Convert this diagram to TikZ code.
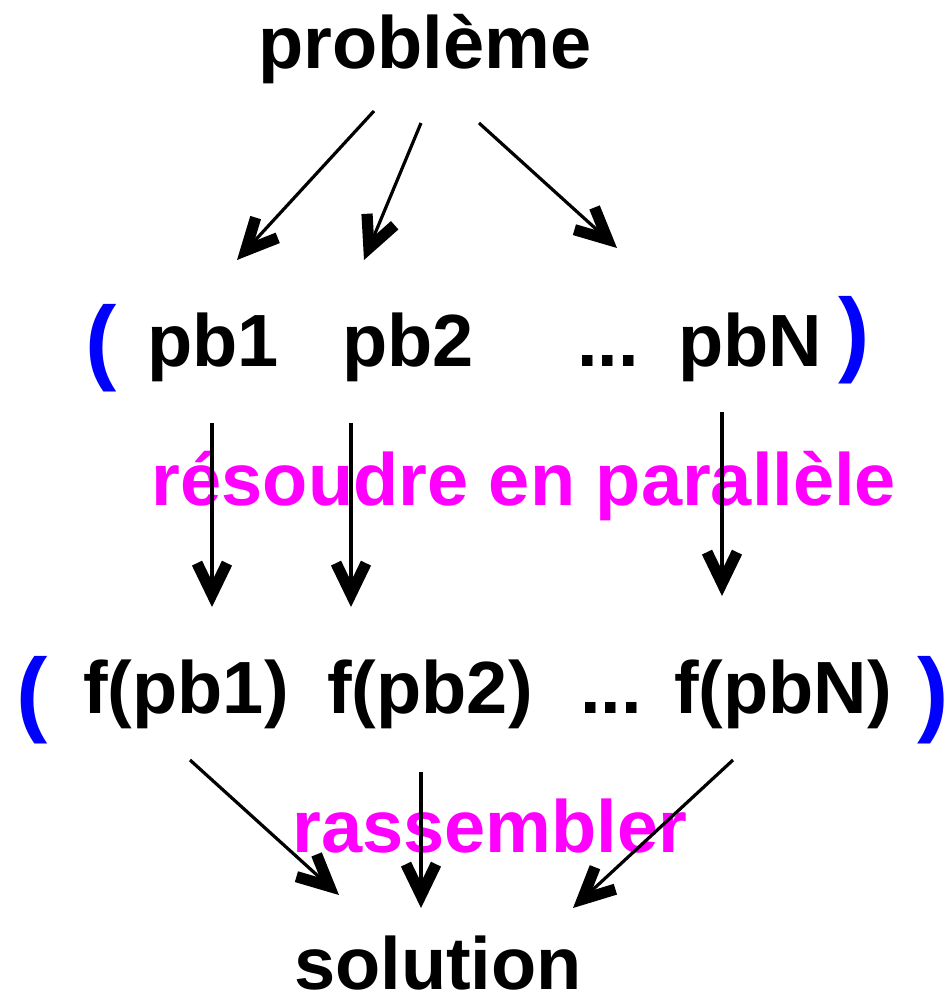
\documentclass[tikz,border=0pt]{standalone}
\usepackage{fontspec}
\setmainfont{Liberation Sans}
\usetikzlibrary{arrows.meta}
\definecolor{mag}{RGB}{255,0,255}
\definecolor{blu}{RGB}{0,0,255}
\begin{document}
\begin{tikzpicture}[x=1pt,y=-1pt,
  txt/.style={inner sep=0pt, anchor=base, font=\fontsize{74}{80}\selectfont\bfseries},
  lbl/.style={txt, text=mag},
  par/.style={inner sep=0pt, anchor=base, text=blu, font=\fontsize{94}{100}\selectfont\bfseries},
  arr/.style={line width=3.2pt, -{Straight Barb[length=31pt,width=30pt,line width'=8pt 0 1]}}]
\useasboundingbox (0,0) rectangle (951,1007);

% texts
\node[txt] (pb) at (425,68) {problème};
\node[par] (l1) at (101,372) {(};
\node[txt] (p1) at (213,366) {pb1};
\node[txt] (p2) at (408,366) {pb2};
\node[txt] (d1) at (608,366) {...};
\node[txt] (pN) at (750,366) {pbN};
\node[par] (r1) at (854,364) {)};

\node[par] (l2) at (32,724) {(};
\node[txt] (f1) at (186,713) {f(pb1)};
\node[txt] (f2) at (430,713) {f(pb2)};
\node[txt] (d2) at (611,713) {...};
\node[txt] (fN) at (783,713) {f(pbN)};
\node[par] (r2) at (933,724) {)};

\node[txt] (sol) at (438,989) {solution};

\node[lbl] (res) at (524,505) {résoudre en parallèle};
\node[lbl] (ras) at (490,852) {rassembler};

% connector end points
\coordinate (a1s) at (374,111); \coordinate (a1e) at (237,260);
\coordinate (a2s) at (421,123); \coordinate (a2e) at (364,260);
\coordinate (a3s) at (479,123); \coordinate (a3e) at (617,248);
\coordinate (b1s) at (212,423); \coordinate (b1e) at (212,607);
\coordinate (b2s) at (351,423); \coordinate (b2e) at (351,607);
\coordinate (b3s) at (722,412); \coordinate (b3e) at (722,596);
\coordinate (c1s) at (190,760); \coordinate (c1e) at (339,895);
\coordinate (c2s) at (421,772); \coordinate (c2e) at (421,908);
\coordinate (c3s) at (733,760); \coordinate (c3e) at (573,908);

\draw[arr] (a1s) -- (a1e);
\draw[arr] (a2s) -- (a2e);
\draw[arr] (a3s) -- (a3e);
\draw[arr] (b1s) -- (b1e);
\draw[arr] (b2s) -- (b2e);
\draw[arr] (b3s) -- (b3e);
\draw[arr] (c1s) -- (c1e);
\draw[arr] (c2s) -- (c2e);
\draw[arr] (c3s) -- (c3e);
\end{tikzpicture}
\end{document}
